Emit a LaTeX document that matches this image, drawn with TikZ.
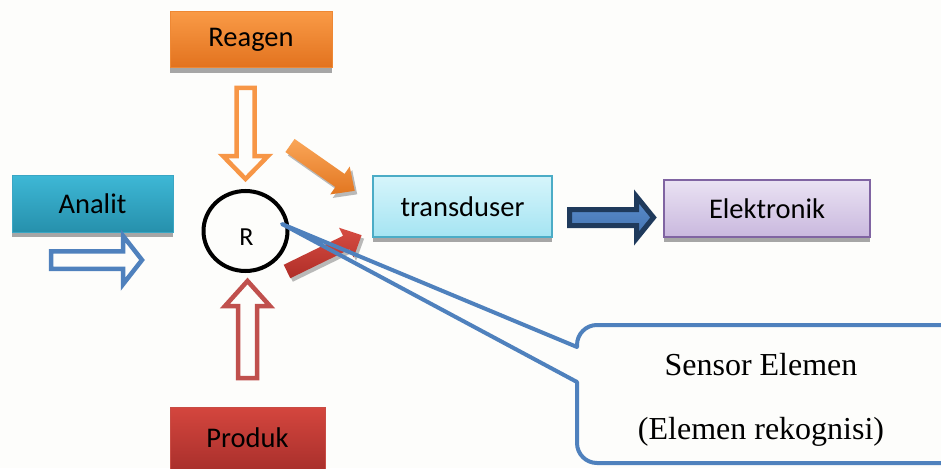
\documentclass[tikz,border=0pt]{standalone}
\usepackage{fontspec}
\setmainfont{Carlito}
\newfontfamily\calloutfont{Liberation Serif}
\usetikzlibrary{shapes.geometric,shadows,calc}

\definecolor{paper}{RGB}{253,253,251}
\definecolor{reagenTop}{RGB}{249,154,70}
\definecolor{reagenBot}{RGB}{226,114,30}
\definecolor{reagenLine}{RGB}{238,136,52}
\definecolor{analitTop}{RGB}{62,184,214}
\definecolor{analitBot}{RGB}{38,144,172}
\definecolor{analitLine}{RGB}{58,166,196}
\definecolor{produkTop}{RGB}{212,70,62}
\definecolor{produkBot}{RGB}{170,48,44}
\definecolor{produkLine}{RGB}{200,76,68}
\definecolor{transTop}{RGB}{214,245,251}
\definecolor{transBot}{RGB}{165,228,242}
\definecolor{transLine}{RGB}{75,172,198}
\definecolor{elekTop}{RGB}{234,226,243}
\definecolor{elekBot}{RGB}{201,184,222}
\definecolor{elekLine}{RGB}{128,100,162}
\definecolor{accentBlue}{RGB}{79,129,189}
\definecolor{navyLine}{RGB}{31,58,92}
\definecolor{orangeArrow}{RGB}{247,150,70}
\definecolor{redArrow}{RGB}{192,80,77}

% block arrow along the local x axis, tail at the origin:
% [options]{length}{shaft width}{head width}{head length}
\newcommand\blockarrow[5][]{%
  \path[#1] (0,{-(#3)/2}) -- ({(#2)-(#5)},{-(#3)/2}) -- ({(#2)-(#5)},{-(#4)/2})
    -- (#2,0) -- ({(#2)-(#5)},{(#4)/2}) -- ({(#2)-(#5)},{(#3)/2}) -- (0,{(#3)/2}) -- cycle;}

\tikzset{
  labelbox/.style={rectangle, inner sep=0pt, line width=1pt,
    font=\fontsize{28.5}{34}\selectfont, text=black,
    drop shadow={shadow xshift=0pt, shadow yshift=-5pt, fill=black!35, opacity=1}},
  hollowarrow/.style={draw, line width=4.5pt, line join=miter},
  arrowshadow/.style={fill=black!45, opacity=0.6},
  callout/.style={draw=accentBlue, line width=4pt, line join=round},
}

\begin{document}
\begin{tikzpicture}[x=1pt,y=-1pt]
\useasboundingbox (0,0) rectangle (941,468);
\clip (0,0) rectangle (941,468);
\fill[paper] (0,0) rectangle (941,468);

% labelled boxes
\node[labelbox, top color=reagenTop, bottom color=reagenBot, draw=reagenLine,
      minimum width=162, minimum height=56] (reagen) at (251,40) {Reagen};
\node[labelbox, top color=analitTop, bottom color=analitBot, draw=analitLine,
      minimum width=161, minimum height=57] (analit) at (92.5,203.5) {Analit};
\node[labelbox, top color=transTop, bottom color=transBot, draw=transLine, line width=1.5pt,
      minimum width=179, minimum height=61] (trans) at (462.5,206.5) {transduser};
\node[labelbox, top color=elekTop, bottom color=elekBot, draw=elekLine, line width=1.5pt,
      minimum width=206, minimum height=57] (elek) at (767,208.5) {Elektronik};
\node[labelbox, top color=produkTop, bottom color=produkBot, draw=produkLine,
      minimum width=155, minimum height=62] (produk) at (247.5,438) {Produk};

% recognition element
\node[draw=black, ellipse, line width=4pt, minimum width=84, minimum height=80,
      inner sep=0pt] (R) at (245.5,231) {};
\node[font=\fontsize{26}{30}\selectfont, inner sep=0pt] (Rlabel) at (246.5,237.5) {R};

% hollow inflow / outflow arrows
\blockarrow[hollowarrow, draw=accentBlue, shift={(51,260)}]{91}{17.5}{48.5}{19}
\blockarrow[hollowarrow, draw=orangeArrow, shift={(245.5,88)}, rotate=-90]{91}{18}{45}{23}
\blockarrow[hollowarrow, draw=redArrow, shift={(247.5,378)}, rotate=90]{97}{19}{45}{25}

% solid arrows towards the transducer
\blockarrow[arrowshadow, shift={(292.5,149)}, rotate=-35]{79}{16}{34}{18}
\blockarrow[top color={rgb,255:red,250;green,166;blue,88}, bottom color={rgb,255:red,226;green,118;blue,32},
            shift={(290,145.5)}, rotate=-35]{79}{16}{34}{18}
\blockarrow[arrowshadow, shift={(289.5,275)}, rotate=26]{83}{15}{33}{17}
\blockarrow[top color={rgb,255:red,214;green,76;blue,66}, bottom color={rgb,255:red,176;green,46;blue,40},
            shift={(287,271.5)}, rotate=26]{83}{15}{33}{17}

% transducer to electronics
\blockarrow[draw=navyLine, line width=5pt, line join=miter,
            top color={rgb,255:red,92;green,142;blue,205}, bottom color={rgb,255:red,66;green,114;blue,176},
            shift={(569.5,217.5)}]{84}{16}{42}{17}

% callout pointing at the recognition element
\coordinate (calloutTip) at ($(R.center)+(36.5,-7)$);
\draw[callout] (577,347) -- (calloutTip) -- (577,382) -- (577,443)
  to[out=-90,in=180] (597,463) -- (945,463) to[out=0,in=-90] (965,443)
  -- (965,345) to[out=90,in=0] (945,325) -- (597,325) to[out=180,in=90] (577,345) -- cycle;
\node[font=\calloutfont\fontsize{32}{38}\selectfont, inner sep=0pt] (calloutA) at (761,365) {Sensor Elemen};
\node[font=\calloutfont\fontsize{32}{38}\selectfont, inner sep=0pt] (calloutB) at (761,432) {(Elemen rekognisi)};
\end{tikzpicture}
\end{document}
